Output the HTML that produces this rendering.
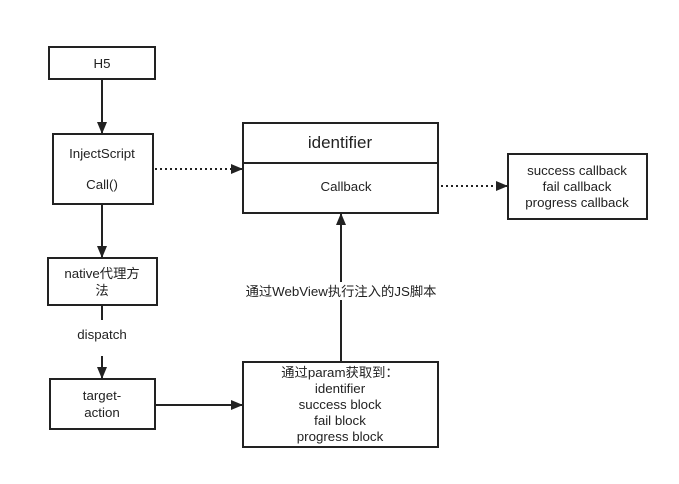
<!DOCTYPE html>
<html><head><meta charset="utf-8"><style>
body{margin:0;background:#fff;}
svg text{font-family:"Liberation Sans","Noto Sans CJK SC",sans-serif;font-size:13.3px;fill:#222;text-anchor:middle;}
</style></head><body>
<svg width="679" height="479" viewBox="0 0 679 479" xmlns="http://www.w3.org/2000/svg">
<defs><marker id="a" markerWidth="12" markerHeight="10" refX="11" refY="5" orient="auto" markerUnits="userSpaceOnUse"><path d="M0,0 L12,5 L0,10 z" fill="#222"/></marker></defs>
<g fill="#fff" stroke="#222" stroke-width="2">
<rect x="49" y="47" width="106" height="32"/>
<rect x="53" y="134" width="100" height="70"/>
<rect x="48" y="258" width="109" height="47"/>
<rect x="50" y="379" width="105" height="50"/>
<rect x="243" y="123" width="195" height="90"/>
<line x1="243" y1="163" x2="438" y2="163"/>
<rect x="508" y="154" width="139" height="65"/>
<rect x="243" y="362" width="195" height="85"/>
</g>
<g stroke="#222" stroke-width="2" fill="none">
<line x1="102" y1="79" x2="102" y2="133" marker-end="url(#a)"/>
<line x1="102" y1="204" x2="102" y2="257" marker-end="url(#a)"/>
<line x1="102" y1="305" x2="102" y2="320"/>
<line x1="102" y1="356" x2="102" y2="378" marker-end="url(#a)"/>
<line x1="155" y1="405" x2="242" y2="405" marker-end="url(#a)"/>
<line x1="341" y1="362" x2="341" y2="214" marker-end="url(#a)"/>
<line x1="155" y1="169" x2="242" y2="169" stroke-dasharray="2,3" marker-end="url(#a)"/>
<line x1="441" y1="186" x2="507" y2="186" stroke-dasharray="2,3" marker-end="url(#a)"/>
</g>
<rect x="246" y="282" width="192" height="18" fill="#fff"/>
<text x="102" y="68">H5</text>
<text x="102" y="158">InjectScript</text>
<text x="102" y="189">Call()</text>
<text x="102" y="278">native代理方</text>
<text x="102" y="295">法</text>
<text x="102" y="339">dispatch</text>
<text x="102" y="400">target-</text>
<text x="102" y="417">action</text>
<text x="340" y="148" style="font-size:17px">identifier</text>
<text x="346" y="191">Callback</text>
<text x="577" y="175">success callback</text>
<text x="577" y="191">fail callback</text>
<text x="577" y="207">progress callback</text>
<text x="341" y="296">通过WebView执行注入的JS脚本</text>
<text x="340" y="377">通过param获取到：</text>
<text x="340" y="393">identifier</text>
<text x="340" y="409">success block</text>
<text x="340" y="425">fail block</text>
<text x="340" y="441">progress block</text>
</svg>
</body></html>
